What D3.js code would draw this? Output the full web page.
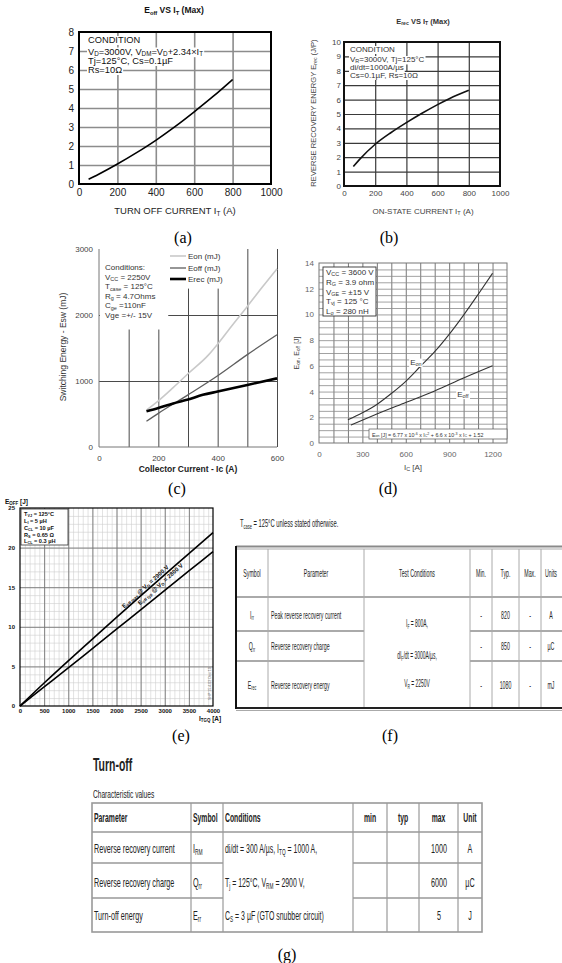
<!DOCTYPE html>
<meta charset="utf-8">
<script src="https://d3js.org/d3.v7.min.js"></script>
<style>body{margin:0;background:#fff}</style>
<svg id="fig" width="562" height="963"></svg>
<script>

  // (a) Eoff vs IT
  var aCurrent = [50, 100, 200, 300, 400, 500, 600, 700, 800];
  var aEoff = [0.25, 0.5, 1.05, 1.65, 2.3, 3.02, 3.8, 4.62, 5.5];
  var aCond = ["CONDITION", "V_{D}=3000V, V_{DM}=V_{D}+2.34×I_{T}", "Tj=125°C, Cs=0.1µF", "Rs=10Ω"];

  // (b) Erec vs IT
  var bCurrent = [60, 100, 200, 300, 400, 500, 600, 700, 800];
  var bErec = [1.35, 1.85, 2.9, 3.7, 4.4, 5.05, 5.65, 6.2, 6.65];
  var bCond = ["CONDITION", "V_{R}=3000V, Tj=125°C", "di/dt=1000A/µs", "Cs=0.1µF, Rs=10Ω"];

  // (c) switching energies (mJ)
  var cEonIc = [160, 200, 250, 300, 370, 400, 450, 500, 550, 600];
  var cEon = [560, 700, 900, 1110, 1400, 1560, 1850, 2130, 2420, 2700];
  var cEoffIc = [160, 200, 300, 400, 500, 600];
  var cEoff = [390, 510, 790, 1080, 1400, 1700];
  var cErecIc = [160, 200, 250, 300, 350, 400, 500, 600];
  var cErec = [540, 590, 660, 720, 790, 840, 940, 1040];
  var cLegend = ["Eon (mJ)", "Eoff (mJ)", "Erec (mJ)"];
  var cCond = ["Conditions:", "V_{CC} = 2250V", "T_{case} = 125°C", "R_{g} = 4.7Ohms", "C_{ge} =110nF", "Vge =+/- 15V"];

  // (d) Eon / Eoff (J)
  var dEonIc = [200, 300, 400, 500, 600, 700, 800, 900, 1000, 1100, 1200];
  var dEon = [1.8, 2.35, 3.0, 3.85, 4.8, 5.95, 7.1, 8.45, 9.95, 11.55, 13.2];
  var dEoffIc = [220, 400, 600, 800, 1000, 1200];
  var dEoff = [1.4, 2.25, 3.15, 4.05, 5.05, 6.0];
  var dCond = ["V_{CC} = 3600 V", "R_{G} = 3.9 ohm", "V_{GE} = ±15 V", "T_{vj} = 125 °C", "L_{σ} = 280 nH"];

  // (e) Eoff vs ITGQ
  var eItgq = [0, 500, 1000, 1500, 2000, 2500, 3000, 3500, 4000];
  var eEoffMax = [0, 2.9, 5.7, 8.45, 11.2, 13.9, 16.6, 19.25, 21.9];
  var eEoffTyp = [0, 2.4, 4.8, 7.25, 9.7, 12.15, 14.6, 17.05, 19.5];
  var eCond = ["T_{VJ} = 125°C", "L_{I} = 5 µH", "C_{CL} = 10 µF", "R_{S} = 0.65 Ω", "L_{CL} = 0.3 µH"];

  // (f) table
  var fHeader = ["Symbol", "Parameter", "Test Conditions", "Min.", "Typ.", "Max.", "Units"];
  var fSymbol = ["I_{rr}", "Q_{rr}", "E_{rec}"];
  var fParam = ["Peak  reverse recovery current", "Reverse recovery charge", "Reverse recovery energy"];
  var fCond = ["I_{F} = 800A,", "dI_{F}/dt = 3000A/µs,", "V_{R} = 2250V"];
  var fMin = ["-", "-", "-"];
  var fTyp = ["820", "850", "1080"];
  var fMax = ["-", "-", "-"];
  var fUnit = ["A", "µC", "mJ"];

  // (g) table
  var gHeader = ["Parameter", "Symbol", "Conditions", "min", "typ", "max", "Unit"];
  var gParam = ["Reverse recovery current", "Reverse recovery charge", "Turn-off energy"];
  var gSymbol = ["I_{RM}", "Q_{rr}", "E_{rr}"];
  var gCond = ["di/dt =  300 A/µs, I_{TQ} = 1000 A,", "T_{j} = 125°C, V_{RM} = 2900 V,", "C_{S} =  3 µF (GTO snubber circuit)"];
  var gMax = ["1000", "6000", "5"];
  var gUnit = ["A", "µC", "J"];

  var SANS = "'Liberation Sans', Arial, sans-serif";
  var SERIF = "'Liberation Serif', 'Times New Roman', serif";

  var svg = d3.select("#fig").attr("font-family", SANS);
  svg.append("rect").attr("width", 562).attr("height", 963).attr("fill", "#fff");

  // text with _{sub} and ^{sup}, shifted with dy
  function rich(t, s) {
    var size = +t.attr("font-size");
    var re = /([_^])\{([^}]*)\}/g, last = 0, m, cur = 0;
    function part(str, off, small) {
      var sp = t.append("tspan").text(str);
      if (small) sp.attr("font-size", size * 0.68);
      if (off != cur) { sp.attr("dy", off - cur); cur = off; }
    }
    while ((m = re.exec(s))) {
      if (m.index > last) part(s.slice(last, m.index), 0, false);
      part(m[2], m[1] == "_" ? size * 0.18 : -size * 0.36, true);
      last = re.lastIndex;
    }
    if (last < s.length) part(s.slice(last), 0, false);
    return t;
  }

  function label(g, x, y, s, size, anchor, color, weight) {
    var t = g.append("text").attr("x", x).attr("y", y)
      .attr("font-size", size).attr("text-anchor", anchor || "start")
      .attr("fill", color || "#000");
    if (weight) t.attr("font-weight", weight);
    return rich(t, s);
  }

  // narrow text (squeezed horizontally)
  function ntext(g, x, y, s, size, anchor, sx, weight) {
    var t = g.append("text")
      .attr("transform", "translate(" + x + "," + y + ") scale(" + sx + ",1)")
      .attr("font-size", size).attr("text-anchor", anchor || "start").attr("fill", "#222");
    if (weight) t.attr("font-weight", weight);
    return rich(t, s);
  }

  function whiteBehind(bgLayer, t, pad) {
    var b = t.node().getBBox();
    bgLayer.append("rect").attr("x", b.x - pad).attr("y", b.y + 1)
      .attr("width", b.width + 2 * pad).attr("height", b.height - 1).attr("fill", "#fff");
  }

  function gridLines(g, x, y, xv, yv, color, w) {
    var gg = g.append("g");
    var h = y.range()[1] - y.range()[0], wd = x.range()[1] - x.range()[0];
    gg.append("g").attr("class", "vgrid").attr("transform", "translate(0," + y.range()[0] + ")")
      .call(d3.axisBottom(x).tickValues(xv).tickSize(h).tickFormat(""))
      .call(function (s) { s.select(".domain").remove(); });
    gg.append("g").attr("class", "hgrid").attr("transform", "translate(" + x.range()[0] + ",0)")
      .call(d3.axisLeft(y).tickValues(yv).tickSize(-wd).tickFormat(""))
      .call(function (s) { s.select(".domain").remove(); });
    gg.selectAll("line").attr("stroke", color).attr("stroke-width", w);
    return gg;
  }

  function tickLabels(g, x, y, xv, yv, o) {
    var fmt = function (d) { return String(d); };
    g.append("g").attr("transform", "translate(0," + y.range()[0] + ")")
      .call(d3.axisBottom(x).tickValues(xv).tickSize(0).tickPadding(o.xpad).tickFormat(fmt))
      .attr("font-family", SANS).attr("font-size", o.size).attr("font-weight", o.weight || null)
      .call(function (s) { s.select(".domain").remove(); s.selectAll("text").attr("fill", o.color); });
    g.append("g").attr("transform", "translate(" + x.range()[0] + ",0)")
      .call(d3.axisLeft(y).tickValues(yv).tickSize(0).tickPadding(o.ypad).tickFormat(fmt))
      .attr("font-family", SANS).attr("font-size", o.size).attr("font-weight", o.weight || null)
      .call(function (s) { s.select(".domain").remove(); s.selectAll("text").attr("fill", o.color); });
  }

  function curve(g, x, y, xs, ys, color, w) {
    g.append("path").datum(d3.zip(xs, ys))
      .attr("d", d3.line().x(function (d) { return x(d[0]); }).y(function (d) { return y(d[1]); })
        .curve(d3.curveMonotoneX))
      .attr("fill", "none").attr("stroke", color).attr("stroke-width", w);
  }

  function frame(g, x, y, color, w) {
    g.append("rect").attr("x", x.range()[0]).attr("y", y.range()[1])
      .attr("width", x.range()[1] - x.range()[0]).attr("height", y.range()[0] - y.range()[1])
      .attr("fill", "none").attr("stroke", color).attr("stroke-width", w);
  }

  function caption(x, y, s) {
    svg.append("text").attr("x", x).attr("y", y).attr("text-anchor", "middle")
      .attr("font-family", SERIF).attr("font-size", 16).text(s);
  }

  function hline(g, x1, x2, y, color, w) {
    g.append("line").attr("x1", x1).attr("x2", x2).attr("y1", y).attr("y2", y)
      .attr("stroke", color).attr("stroke-width", w);
  }
  function vline(g, x, y1, y2, color, w) {
    g.append("line").attr("x1", x).attr("x2", x).attr("y1", y1).attr("y2", y2)
      .attr("stroke", color).attr("stroke-width", w);
  }

  // ---------------- (a) ----------------
  var pa = svg.append("g");
  var ax = d3.scaleLinear().domain([0, 1000]).range([79, 271]);
  var ay = d3.scaleLinear().domain([0, 8]).range([184, 32]);
  gridLines(pa, ax, ay, [200, 400, 600, 800], [1, 2, 3, 4, 5, 6, 7], "#8c8c8c", 1.6);
  var aBg = pa.append("g");
  aCond.forEach(function (s, i) {
    var t = label(pa, 88, [43, 54.5, 64, 73][i], s, 9.3, "start", "#111");
    whiteBehind(aBg, t, 1);
  });
  curve(pa, ax, ay, aCurrent, aEoff, "#000", 1.6);
  frame(pa, ax, ay, "#000", 2);
  tickLabels(pa, ax, ay, d3.range(0, 1001, 200), d3.range(0, 9), { size: 10, xpad: 4.5, ypad: 5, color: "#222" });
  label(pa, 174, 13, "E_{off} VS I_{T} (Max)", 8.5, "middle", "#111", "bold");
  label(pa, 175, 214, "TURN OFF CURRENT I_{T} (A)", 9.5, "middle", "#222");
  caption(183, 243, "(a)");

  // ---------------- (b) ----------------
  var pb = svg.append("g");
  var bx = d3.scaleLinear().domain([0, 1000]).range([344, 500]);
  var by = d3.scaleLinear().domain([0, 10]).range([186, 42]);
  gridLines(pb, bx, by, [200, 400, 600, 800], d3.range(1, 10), "#3a3a3a", 1.2);
  var bBg = pb.append("g");
  bCond.forEach(function (s, i) {
    var t = label(pb, 350, [52, 62, 70, 78][i], s, 8, "start", "#333");
    whiteBehind(bBg, t, 1);
  });
  curve(pb, bx, by, bCurrent, bErec, "#111", 1.6);
  frame(pb, bx, by, "#111", 2);
  tickLabels(pb, bx, by, d3.range(0, 1001, 200), d3.range(0, 11), { size: 8, xpad: 4, ypad: 3, color: "#444" });
  label(pb, 423, 24, "E_{rec} VS I_{T} (Max)", 7.5, "middle", "#333", "bold");
  label(pb, 423, 214, "ON-STATE CURRENT I_{T} (A)", 8, "middle", "#444");
  label(pb.append("g").attr("transform", "translate(316,113) rotate(-90)"), 0, 0,
    "REVERSE RECOVERY ENERGY E_{rec} (J/P)", 7.6, "middle", "#444");
  caption(389, 243, "(b)");

  // ---------------- (c) ----------------
  var pc = svg.append("g");
  var cx = d3.scaleLinear().domain([0, 600]).range([99, 277]);
  var cy = d3.scaleLinear().domain([0, 3000]).range([447, 249]);
  gridLines(pc, cx, cy, [100, 200, 300, 400, 500, 600], [1000, 2000], "#4a4a4a", 1);
  // text boxes (white fill) that hide grid lines
  pc.append("rect").attr("x", cx(0) + 1).attr("y", cy(3000)).attr("width", cx(230) - cx(0))
    .attr("height", cy(1780) - cy(3000)).attr("fill", "#fff");
  pc.append("rect").attr("x", cx(280)).attr("y", cy(3000)).attr("width", cx(480) - cx(280))
    .attr("height", cy(2400) - cy(3000)).attr("fill", "#fff");
  vline(pc, 99, 249, 447, "#777", 1);
  hline(pc, 99, 277, 447, "#777", 1);
  curve(pc, cx, cy, cEonIc, cEon, "#c9c9c9", 1.6);
  curve(pc, cx, cy, cEoffIc, cEoff, "#5e5e5e", 1.3);
  curve(pc, cx, cy, cErecIc, cErec, "#000", 2.6);
  tickLabels(pc, cx, cy, [0, 200, 400, 600], [0, 1000, 2000, 3000], { size: 8, xpad: 8, ypad: 6, color: "#444" });
  var cLeg = [{ c: "#c9c9c9", w: 1.6 }, { c: "#5e5e5e", w: 1.3 }, { c: "#000", w: 2.6 }];
  cLegend.forEach(function (s, i) {
    var yy = [256, 268, 279][i];
    hline(pc, 170, 186, yy, cLeg[i].c, cLeg[i].w);
    label(pc, 188, yy + 3, s, 8, "start", "#333");
  });
  cCond.forEach(function (s, i) {
    label(pc, 105, 270 + i * 9.6, s, 8, "start", "#333");
  });
  label(pc.append("g").attr("transform", "translate(66,347) rotate(-90)"), 0, 0,
    "Switching Energy - Esw (mJ)", 8.5, "middle", "#333");
  label(pc, 188, 472, "Collector Current - Ic (A)", 8.5, "middle", "#222", "bold");
  caption(177, 494, "(c)");

  // ---------------- (d) ----------------
  var pd = svg.append("g");
  var dx = d3.scaleLinear().domain([0, 1300]).range([319, 507]);
  var dy = d3.scaleLinear().domain([0, 14]).range([443, 263]);
  gridLines(pd, dx, dy, d3.range(100, 1300, 100), d3.range(0.5, 14, 0.5), "#8a8a8a", 0.8);
  pd.selectAll(".vgrid line").attr("stroke", "#555");
  frame(pd, dx, dy, "#777", 1);
  curve(pd, dx, dy, dEonIc, dEon, "#333", 1.1);
  curve(pd, dx, dy, dEoffIc, dEoff, "#333", 1.1);
  tickLabels(pd, dx, dy, [0, 300, 600, 900, 1200], d3.range(0, 15, 2), { size: 8, xpad: 8, ypad: 5, color: "#666" });
  pd.append("rect").attr("x", 323).attr("y", 267).attr("width", 53).attr("height", 49)
    .attr("fill", "#fff").attr("stroke", "#333").attr("stroke-width", 0.9);
  dCond.forEach(function (s, i) {
    label(pd, 326, [275, 285, 295, 304, 314][i], s, 8, "start", "#333");
  });
  var dBg = pd.append("g");
  whiteBehind(dBg, label(pd, dx(670), dy(6.1), "E_{on}", 8, "middle", "#333"), 1);
  whiteBehind(dBg, label(pd, dx(995), dy(3.6), "E_{off}", 8, "middle", "#333"), 1);
  pd.append("rect").attr("x", 369).attr("y", 429).attr("width", 138).attr("height", 10)
    .attr("fill", "#fff").attr("stroke", "#555").attr("stroke-width", 0.7);
  label(pd, 372, 436.5, "E_{on} [J] = 6.77 x 10^{-6} x I_{C}^{2} + 6.6 x 10^{-3} x I_{C} + 1.52", 5.3, "start", "#333");
  label(pd.append("g").attr("transform", "translate(299,353) rotate(-90)"), 0, 0,
    "E_{on}, E_{off} [J]", 7, "middle", "#444");
  label(pd, 413, 470, "I_{C} [A]", 8, "middle", "#444");
  caption(388, 494, "(d)");

  // ---------------- (e) ----------------
  var pe = svg.append("g");
  var ex = d3.scaleLinear().domain([0, 4000]).range([20, 213]);
  var ey = d3.scaleLinear().domain([0, 25]).range([706, 508]);
  gridLines(pe, ex, ey, d3.range(100, 4000, 100), d3.range(1, 25, 1), "#cfcfcf", 0.6);
  gridLines(pe, ex, ey, d3.range(500, 4000, 500), d3.range(5, 25, 5), "#777", 0.9);
  pe.append("rect").attr("x", 21).attr("y", 509).attr("width", 47).attr("height", 36)
    .attr("fill", "#fff").attr("stroke", "#333").attr("stroke-width", 0.8);
  eCond.forEach(function (s, i) {
    label(pe, 24, [515.5, 522.5, 529.5, 536.5, 543][i], s, 5.6, "start", "#111", "bold");
  });
  curve(pe, ex, ey, eItgq, eEoffMax, "#000", 1.6);
  curve(pe, ex, ey, eItgq, eEoffTyp, "#000", 1.6);
  frame(pe, ex, ey, "#000", 1.2);
  tickLabels(pe, ex, ey, d3.range(0, 4001, 500), d3.range(0, 26, 5), { size: 6, xpad: 3, ypad: 5, color: "#111", weight: "bold" });
  var eMaxAt = d3.scaleLinear().domain(eItgq).range(eEoffMax);
  var ang = Math.atan2(ey(eEoffMax[8]) - ey(0), ex(4000) - ex(0)) * 180 / Math.PI;
  label(pe.append("g").attr("transform", "translate(" + ex(2650) + "," + ey(eMaxAt(2650)) + ") rotate(" + ang + ")"),
    0, -1.8, "E_{off max} @ V_{D} = 2900 V", 6, "middle", "#111", "bold");
  label(pe.append("g").attr("transform", "translate(" + ex(2850) + "," + ey(eMaxAt(2850)) + ") rotate(" + ang + ")"),
    0, 6.3, "E_{off typ} @ V_{D} = 2800 V", 6, "middle", "#111", "bold");
  label(pe, 5, 504, "E_{OFF} [J]", 6.5, "start", "#111", "bold");
  label(pe, 199, 721, "I_{TGQ} [A]", 6.5, "start", "#111", "bold");
  pe.append("text").attr("transform", "translate(211,700) rotate(-90)").attr("font-size", 3.6)
    .attr("fill", "#666").text("SHP 15.4.02 Dec 10");
  caption(181, 741, "(e)");

  // ---------------- (f) ----------------
  var pf = svg.append("g");
  var fCols = [236, 268, 364, 470, 492, 519, 541, 575];
  var fRows = [549, 597, 631, 661, 708];
  ntext(pf, 240, 527, "T_{case} = 125°C unless stated otherwise.", 10, "start", 0.58);
  hline(pf, 236, 562, 546.5, "#8a8a8a", 2);
  hline(pf, 236, 562, 549, "#aaa", 1.2);
  hline(pf, 236, 562, 708, "#222", 2);
  hline(pf, 236, 562, 710.5, "#aaa", 1);
  hline(pf, 236, 562, fRows[1], "#aaa", 2);
  vline(pf, 236, 546, 709, "#111", 2);
  fCols.slice(1, 7).forEach(function (c) { vline(pf, c, 549, 707, "#aaa", 1); });
  [fRows[2], fRows[3]].forEach(function (r) {
    hline(pf, 237, fCols[2], r, "#aaa", 1.8);
    hline(pf, fCols[3], 562, r, "#aaa", 1.8);
  });
  var fMid = d3.range(7).map(function (i) { return (fCols[i] + fCols[i + 1]) / 2; });
  fMid[6] = 551;
  fHeader.forEach(function (s, i) { ntext(pf, fMid[i], 577, s, 10.5, "middle", 0.5); });
  var fBase = [618.5, 650, 688.5];
  var fCondBase = [627, 659, 687];
  fSymbol.forEach(function (s, i) {
    ntext(pf, fMid[0], fBase[i], s, 10.5, "middle", 0.5);
    ntext(pf, 271, fBase[i], fParam[i], 10.5, "start", 0.5);
    ntext(pf, fMid[2], fCondBase[i], fCond[i], 10.5, "middle", 0.47);
    ntext(pf, fMid[3], fBase[i], fMin[i], 10.5, "middle", 0.5);
    ntext(pf, fMid[4], fBase[i], fTyp[i], 10.5, "middle", 0.5);
    ntext(pf, fMid[5], fBase[i], fMax[i], 10.5, "middle", 0.5);
    ntext(pf, fMid[6], fBase[i], fUnit[i], 10.5, "middle", 0.5);
  });
  caption(390, 741, "(f)");

  // ---------------- (g) ----------------
  var pg = svg.append("g");
  var gCols = [92, 191, 223, 353, 387, 419, 458, 482];
  var gRows = [803, 832, 863, 898, 932];
  ntext(pg, 93, 771, "Turn-off", 19, "start", 0.55, "bold");
  ntext(pg, 93, 798, "Characteristic values", 11, "start", 0.6);
  pg.append("rect").attr("x", 92).attr("y", 803).attr("width", 390).attr("height", 129)
    .attr("fill", "none").attr("stroke", "#999").attr("stroke-width", 1.6);
  gCols.slice(1, 7).forEach(function (c) { vline(pg, c, 803, 932, "#999", 1.2); });
  hline(pg, 92, 482, gRows[1], "#999", 1.4);
  [gRows[2], gRows[3]].forEach(function (r) {
    hline(pg, 92, gCols[2], r, "#999", 1.4);
    hline(pg, gCols[3], 482, r, "#999", 1.4);
  });
  var gMid = d3.range(7).map(function (i) { return (gCols[i] + gCols[i + 1]) / 2; });
  ntext(pg, 94, 822, gHeader[0], 12, "start", 0.57, "bold");
  ntext(pg, 193, 822, gHeader[1], 12, "start", 0.57, "bold");
  ntext(pg, 225, 822, gHeader[2], 12, "start", 0.57, "bold");
  [3, 4, 5, 6].forEach(function (i) { ntext(pg, gMid[i], 822, gHeader[i], 12, "middle", 0.57, "bold"); });
  var gBase = [853, 887, 920];
  gParam.forEach(function (s, i) {
    ntext(pg, 94, gBase[i], s, 12, "start", 0.6);
    ntext(pg, 193, gBase[i], gSymbol[i], 12, "start", 0.6);
    ntext(pg, 225, gBase[i], gCond[i], 12, "start", 0.58);
    ntext(pg, 439, gBase[i], gMax[i], 12, "middle", 0.6);
    ntext(pg, gMid[6], gBase[i], gUnit[i], 12, "middle", 0.6);
  });
  caption(287, 960, "(g)");

</script>
